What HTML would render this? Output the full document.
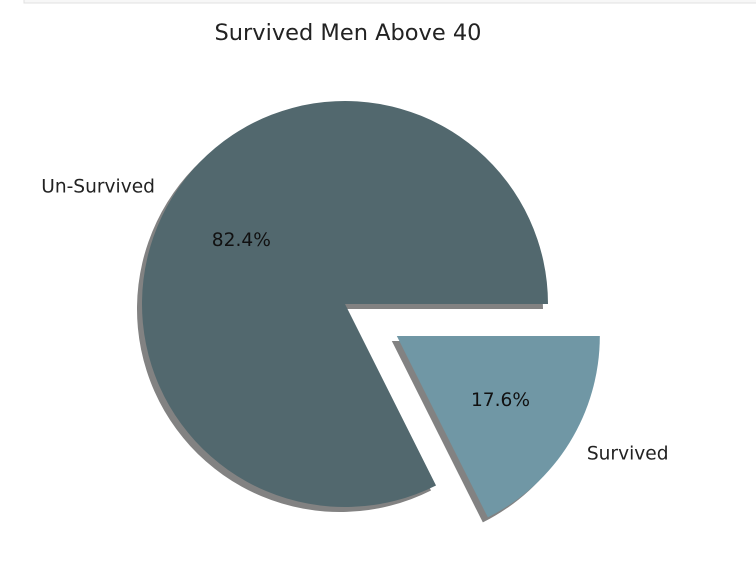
<!DOCTYPE html>
<html><head><meta charset="utf-8"><style>
body{margin:0;background:#fff;}
svg{display:block;font-family:"DejaVu Sans","Liberation Sans",sans-serif;}
</style></head><body>
<svg id="chart" width="756" height="561">
<rect x="24" y="-1" width="740" height="4" fill="#f7f7f7" stroke="#e0e0e0"/>
<text x="348" y="40" text-anchor="middle" font-size="22.5" fill="#222">Survived Men Above 40</text>
<g id="shadows"></g><g id="slices"></g><g id="labels"></g>
</svg>
<script>
const labels=["Un-Survived","Survived"];
const values=[82.4,17.6];
const explode=[0,0.3];
const colors=["#52686e","#7097a5"];
const cx=345,cy=304,R=203;
const ns="http://www.w3.org/2000/svg";
const total=values.reduce((a,b)=>a+b,0);
let start=0;
function pt(x,y,r,a){return [x+r*Math.cos(a),y-r*Math.sin(a)];}
values.forEach((v,i)=>{
  const sweep=v/total*2*Math.PI,a0=start,a1=start+sweep,mid=(a0+a1)/2;
  start=a1;
  const ox=cx+explode[i]*R*Math.cos(mid),oy=cy-explode[i]*R*Math.sin(mid);
  const large=sweep>Math.PI?1:0;
  const mk=(x,y)=>{const p0=pt(x,y,R,a0),p1=pt(x,y,R,a1);return `M${x},${y}L${p0[0]},${p0[1]}A${R},${R} 0 ${large} 0 ${p1[0]},${p1[1]}Z`;};
  const sh=document.createElementNS(ns,"path");
  sh.setAttribute("d",mk(ox-5,oy+5));sh.setAttribute("fill","#828282");
  
  
  document.getElementById("shadows").appendChild(sh);
  const p=document.createElementNS(ns,"path");
  p.setAttribute("d",mk(ox,oy));p.setAttribute("fill",colors[i]);
  
  
  document.getElementById("slices").appendChild(p);
  const lp=pt(ox,oy,R*1.1,mid);
  const t=document.createElementNS(ns,"text");
  t.setAttribute("x",lp[0]);t.setAttribute("y",lp[1]+6);t.setAttribute("font-size","18.6");
  t.setAttribute("fill","#222");t.setAttribute("text-anchor",Math.cos(mid)<0?"end":"start");
  t.textContent=labels[i];
  
  
  document.getElementById("labels").appendChild(t);
  const pp=pt(ox,oy,R*0.6,mid);
  const q=document.createElementNS(ns,"text");
  q.setAttribute("x",pp[0]);q.setAttribute("y",pp[1]+6);q.setAttribute("font-size","18.6");
  q.setAttribute("fill","#111");q.setAttribute("text-anchor","middle");
  q.textContent=v.toFixed(1)+"%";
  
  
  document.getElementById("labels").appendChild(q);
});
</script>
</body></html>
